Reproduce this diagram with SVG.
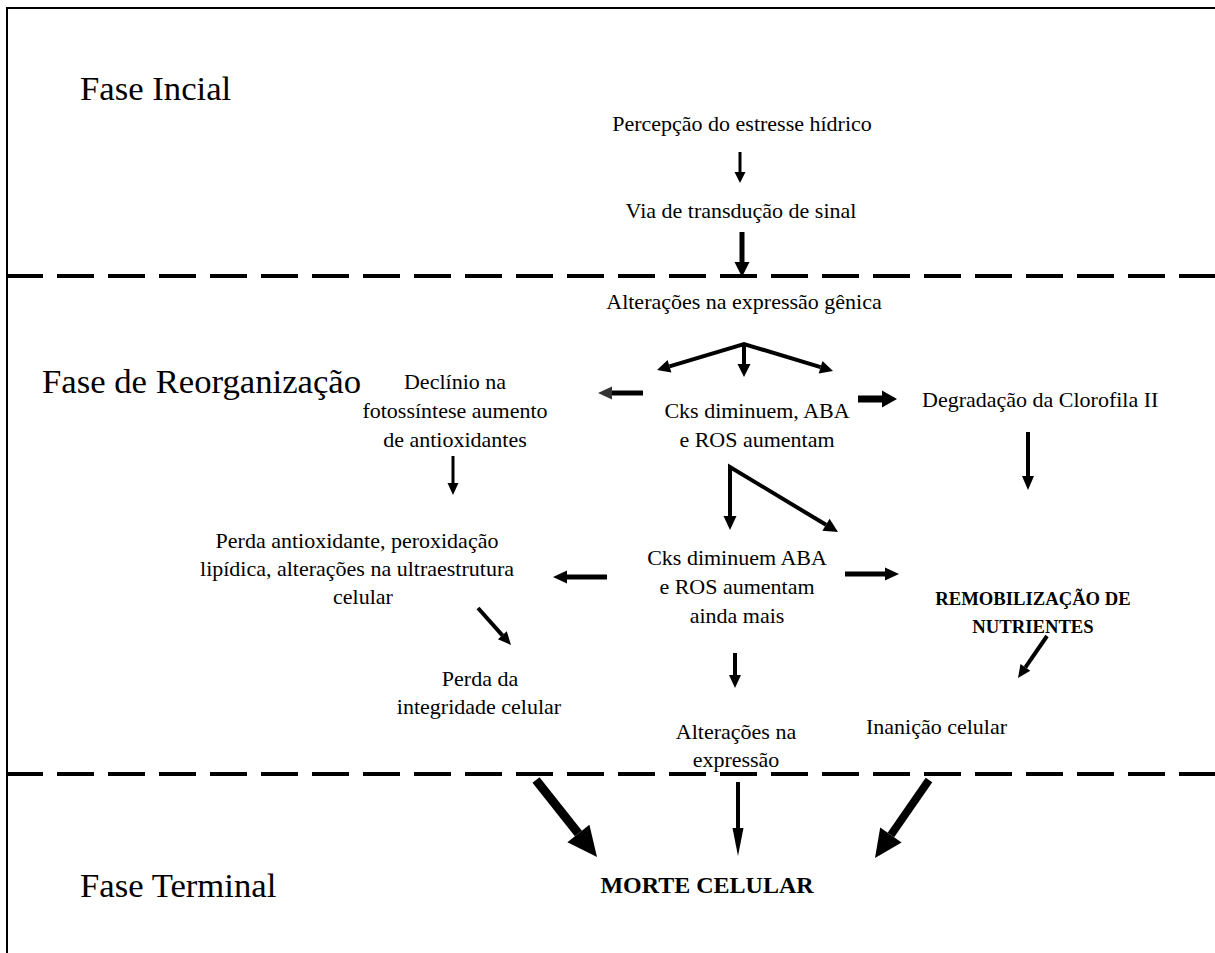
<svg xmlns="http://www.w3.org/2000/svg" width="1215" height="953" viewBox="0 0 1215 953">
<style>
text{font-family:"Liberation Serif","Times New Roman",serif;fill:#000}
.b{font-size:22px;text-anchor:middle}
.bl{font-size:22px}
.h{font-size:34.7px}
.bold{font-weight:bold;text-anchor:middle}
.frame{stroke:#000;stroke-width:2;fill:none}
.dash{stroke:#000;stroke-width:4;stroke-dasharray:37 14;fill:none}
.ln{stroke:#000;fill:none;stroke-linejoin:miter}
.hd{fill:#000}
</style>
<rect width="1215" height="953" fill="#fff"/>
<g id="frame">
<path class="frame" d="M7,953 V8 H1215"/>
<path class="dash" d="M6,276 H1215"/>
<path class="dash" d="M6,774 H1215"/>
</g>
<g id="phases">
<text class="h" x="80" y="100">Fase Incial</text>
<text class="h" x="42" y="393">Fase de Reorganização</text>
<text class="h" x="80" y="897">Fase Terminal</text>
</g>
<g id="n-percepcao"><text class="b" x="742" y="131">Percepção do estresse hídrico</text></g>
<g id="n-via"><text class="b" x="741" y="218">Via de transdução de sinal</text></g>
<g id="n-alteracoes-genica"><text class="b" x="744" y="309">Alterações na expressão gênica</text></g>
<g id="n-declinio">
<text class="b" x="455" y="389">Declínio na</text>
<text class="b" x="455" y="418">fotossíntese aumento</text>
<text class="b" x="455" y="447">de antioxidantes</text>
</g>
<g id="n-cks1">
<text class="b" x="757" y="418">Cks diminuem, ABA</text>
<text class="b" x="757" y="447">e ROS aumentam</text>
</g>
<g id="n-degradacao"><text class="bl" x="922" y="407">Degradação da Clorofila II</text></g>
<g id="n-perda-antiox">
<text class="b" x="357" y="548">Perda antioxidante, peroxidação</text>
<text class="b" x="357" y="576">lipídica, alterações na ultraestrutura</text>
<text class="b" x="363" y="604">celular</text>
</g>
<g id="n-cks2">
<text class="b" x="737" y="565">Cks diminuem ABA</text>
<text class="b" x="737" y="594">e ROS aumentam</text>
<text class="b" x="737" y="623">ainda mais</text>
</g>
<g id="n-remob">
<text class="bold" x="1033" y="605" font-size="18.67">REMOBILIZAÇÃO DE</text>
<text class="bold" x="1033" y="633" font-size="18.67">NUTRIENTES</text>
</g>
<g id="n-perda-integ">
<text class="b" x="480" y="686">Perda da</text>
<text class="b" x="479" y="714">integridade celular</text>
</g>
<g id="n-alteracoes-expr">
<text class="b" x="736" y="739">Alterações na</text>
<text class="b" x="736" y="767">expressão</text>
</g>
<g id="n-inanicao"><text class="bl" x="866" y="734">Inanição celular</text></g>
<g id="n-morte"><text class="bold" x="707" y="893" font-size="24">MORTE CELULAR</text></g>
<g id="connectors">
<path class="ln" stroke-width="3" d="M740,152 V173"/><polygon class="hd" points="740,183 734.5,172 745.5,172"/>
<path class="ln" stroke-width="5" d="M742,232 V263"/><polygon class="hd" points="742,277 734.5,262 749.5,262"/>
<path class="ln" stroke-width="4" d="M669.5,366.3 L744,344 L820.6,367.2 M744,344 V365"/>
<polygon class="hd" points="657,370 667.6,360.1 671.4,372.5"/>
<polygon class="hd" points="833,371 818.7,373.4 822.5,361.0"/>
<polygon class="hd" points="744,377 737.5,364 750.5,364"/>
<path class="ln" stroke-width="5" stroke="#333" d="M643,393 H611"/><polygon fill="#333" points="598,393 612,386.5 612,399.5"/>
<path class="ln" stroke-width="7" d="M858,399 H883"/><polygon class="hd" points="897,399 882,390.5 882,407.5"/>
<path class="ln" stroke-width="3" d="M453,456 V484"/><polygon class="hd" points="453,495 447.5,483 458.5,483"/>
<path class="ln" stroke-width="4" d="M1028,432 V477"/><polygon class="hd" points="1028,490 1022,476 1034,476"/>
<path class="ln" stroke-width="4" d="M730,517 V467 L826,524.8"/>
<polygon class="hd" points="730,530 723.5,516 736.5,516"/>
<polygon class="hd" points="838,532 822.4,530.8 829.6,518.8"/>
<path class="ln" stroke-width="5" d="M607,577 H566"/><polygon class="hd" points="553,577 567,570.5 567,583.5"/>
<path class="ln" stroke-width="5" d="M845,574 H886"/><polygon class="hd" points="899,574 885,567.5 885,580.5"/>
<path class="ln" stroke-width="4" d="M478,608 L502.4,635.3"/><polygon class="hd" points="511,645 497.9,639.3 506.8,631.3"/>
<path class="ln" stroke-width="4" d="M735,653 V676"/><polygon class="hd" points="735,688 729,675 741,675"/>
<path class="ln" stroke-width="4" d="M1047,636 L1025.4,667.3"/><polygon class="hd" points="1018,678 1020.5,663.9 1030.3,670.7"/>
<path class="ln" stroke-width="9" d="M536,780 L578.4,833.5"/><polygon class="hd" points="597,857 567.4,842.2 589.4,824.8"/>
<path class="ln" stroke-width="4" d="M738,782 V830"/><polygon class="hd" points="738,856 732.5,828 743.5,828"/>
<path class="ln" stroke-width="8" d="M929,780 L890.9,835"/><polygon class="hd" points="875,858 880.2,827.6 901.6,842.4"/>
</g>
</svg>
